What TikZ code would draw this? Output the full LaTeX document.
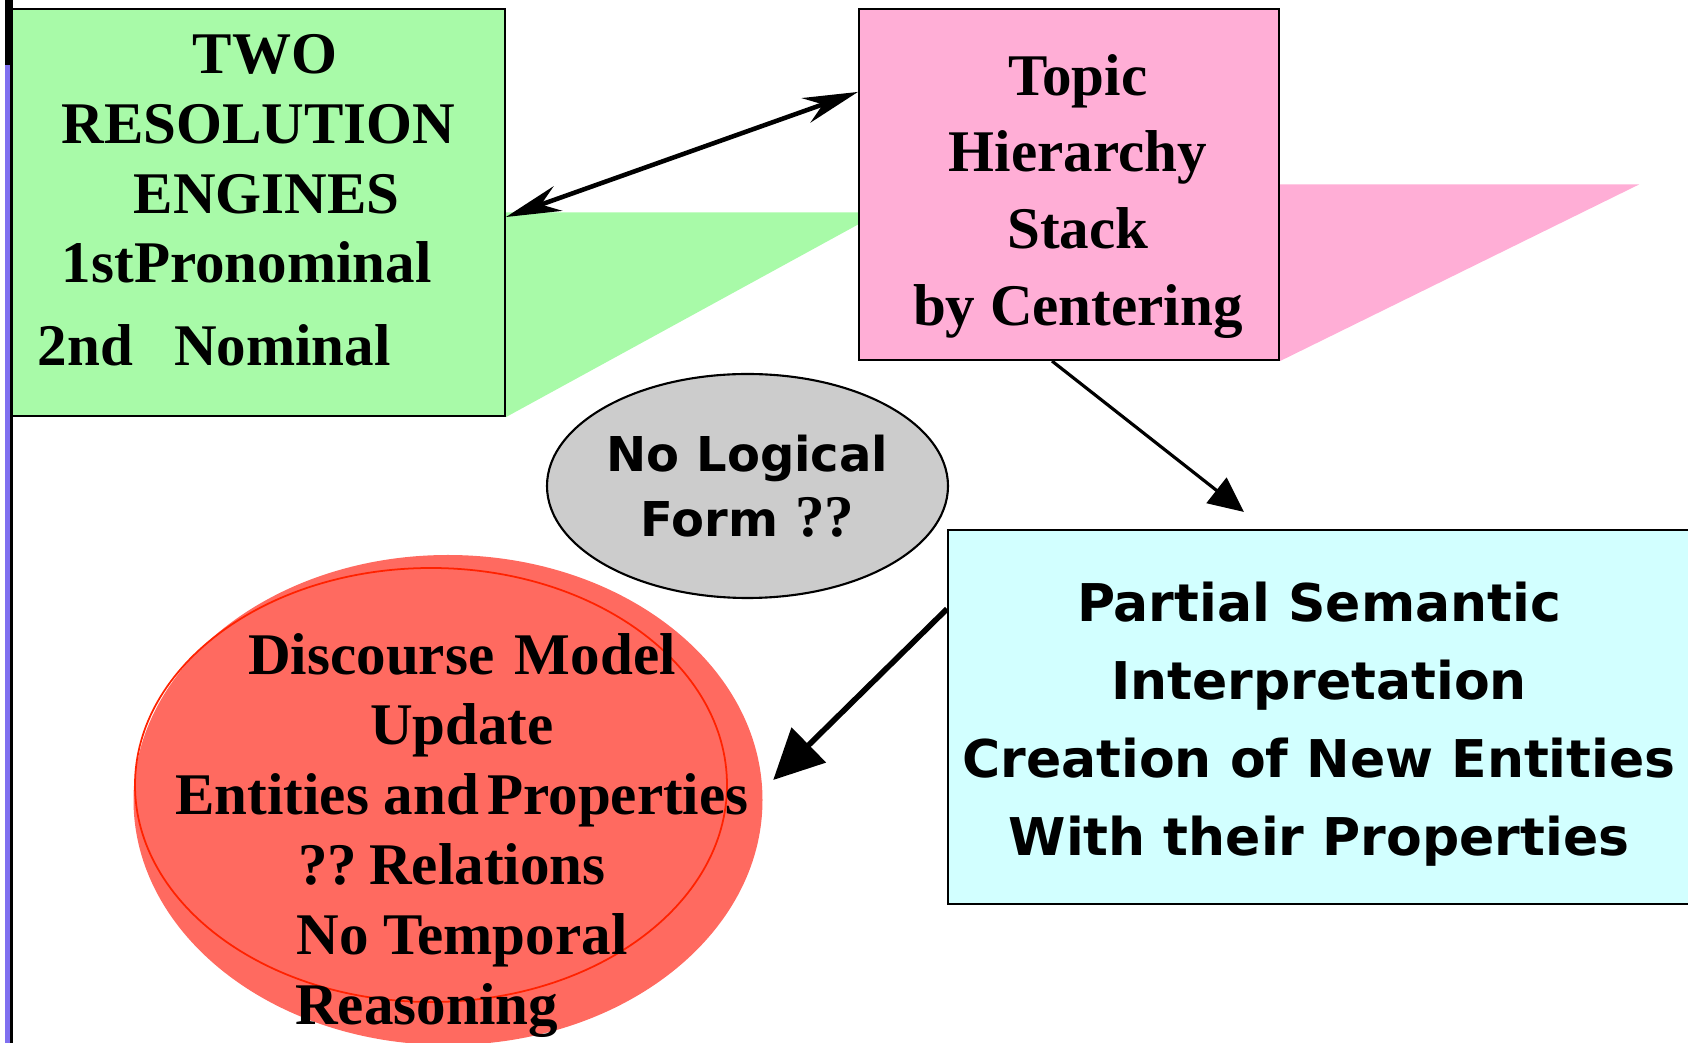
\documentclass[tikz,border=0pt]{standalone}
\usepackage{fontspec}
\setmainfont{Liberation Serif}
\newfontfamily\roundfont{DejaVu Sans}
\usetikzlibrary{arrows.meta,shapes.geometric,backgrounds}
\definecolor{leaf}{HTML}{A8FAA8}
\definecolor{blush}{HTML}{FFAED6}
\definecolor{frost}{HTML}{D2FFFF}
\definecolor{ash}{HTML}{CCCCCC}
\definecolor{coral}{HTML}{FF6A60}
\definecolor{flame}{HTML}{FF2200}
\definecolor{strip}{HTML}{8070F0}
\newcommand{\pad}[1]{\makebox[#1]{}}

\begin{document}
\begin{tikzpicture}[
  serifbody/.style={align=center,font=\bfseries\fontsize{16.8}{#1}\selectfont},
  roundbody/.style={align=center,font=\roundfont\bfseries\fontsize{14.8}{22.2}\selectfont},
  panel/.style={draw=black,line width=0.6pt,inner sep=0pt},
  linkboth/.style={line width=1.3pt,{Stealth[length=5.5mm,width=2.6mm]}-{Stealth[length=5.5mm,width=2.6mm]}},
  linkdown/.style={line width=0.9pt,-{Triangle[length=3.5mm,width=3.2mm]}},
  linkback/.style={line width=1.6pt,-{Triangle[length=5mm,width=4.8mm]}}]
  \useasboundingbox (0,0) rectangle (16.88,-10.43);
  % margin rule on the left
  \fill[strip] (0.05,0) rectangle (0.10,-10.43);
  \fill[black] (0.05,0) rectangle (0.10,-0.65);
  \draw[line width=0.6pt] (0.115,0) -- (0.115,-10.43);

  \node[panel,fill=leaf,minimum width=4.93cm,minimum height=4.07cm,serifbody=19.9,text depth=0.25cm] (engines) at (2.585,-2.125)
    {\pad{0.22em}TWO\\RESOLUTION\\\pad{0.28em}ENGINES\\1stPronominal\pad{0.4em}\\[0.13cm]2nd\hspace{0.7em}Nominal\hspace*{1.5em}};
  \node[panel,fill=blush,minimum width=4.20cm,minimum height=3.51cm,serifbody=21.9] (topic) at (10.69,-1.845)
    {\rule{0pt}{0.65cm}\pad{0.3em}Topic\\\pad{0.3em}Hierarchy\\\pad{0.3em}Stack\\\pad{0.3em}by Centering};
  \node[panel,fill=frost,minimum width=7.42cm,minimum height=3.74cm,roundbody] (partial) at (13.19,-7.17)
    {\rule{0pt}{0.54cm}Partial Semantic\\Interpretation\\Creation of New Entities\\With their Properties};
  \node[ellipse,draw,line width=0.6pt,fill=ash,inner sep=0pt,minimum width=4.01cm,minimum height=2.24cm,
    align=center,font=\roundfont\bfseries\fontsize{13.66}{18.5}\selectfont] (logic) at (7.475,-4.86)
    {No Logical\\Form {\rmfamily\fontsize{16.8}{18.5}\selectfont ??}};

  % discourse model
  \node[ellipse,fill=coral,minimum width=6.29cm,minimum height=4.90cm] (model) at (4.48,-8.00) {};
  \node[ellipse,draw=flame,line width=0.5pt,minimum width=5.92cm,minimum height=4.34cm] (modelrim) at (4.31,-7.85) {};
  \node[serifbody=19.9] (modeltext) at (4.62,-8.355)
    {Discourse\hspace{0.35em}Model\\Update\\Entities and\hspace{0.14em}Properties\\??\hspace{0.2em}Relations\pad{0.34em}\\No Temporal\\Reasoning\hspace*{1.2em}};

  \begin{scope}[on background layer]
    \fill[leaf] (engines.east) -- ++(3.74,0) -- (engines.south east) -- cycle;
    \fill[blush] (topic.east) -- ++(3.59,0) -- (topic.south east) -- cycle;
  \end{scope}

  \draw[linkboth] ([yshift=-0.045cm]engines.east) -- ([yshift=-0.84cm]topic.north west);
  \draw[linkdown] ([xshift=-0.17cm]topic.south) -- ([shift={(2.97,0.17)}]partial.north west);
  \draw[linkback] ([yshift=-0.8cm]partial.north west) -- ([shift={(0.1,0.2)}]model.east);
\end{tikzpicture}
\end{document}
